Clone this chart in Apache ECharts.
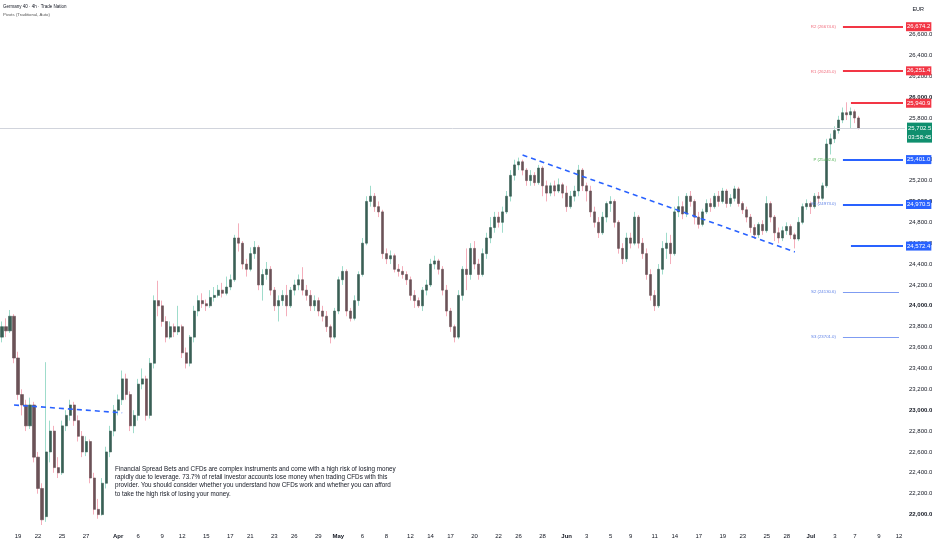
<!DOCTYPE html>
<html><head><meta charset="utf-8">
<script src="https://cdn.jsdelivr.net/npm/echarts@6/dist/echarts.min.js"></script>
<style>html,body{margin:0;padding:0;background:#fff}#c{width:932px;height:550px}</style>
</head><body><div id="c"></div>
<script>
// [open, close, low, high] per 4h bar
const ohlc = [
[23700,23800,23650,23850],[23800,23760,23700,23880],[23760,23900,23740,23960],[23900,23500,23450,23920],
[23500,23150,23100,23560],[23150,23050,22950,23200],[23050,22850,22800,23100],[22850,23050,22820,23120],
[23050,22550,22500,23080],[22550,22250,22200,22600],[22250,21950,21900,22300],[21980,22600,21930,23460],
[22600,22800,22500,22900],[22800,22450,22400,22850],[22450,22400,22350,22550],[22400,22850,22380,22900],
[22850,22950,22800,23000],[22950,23050,22900,23100],[23050,22900,22850,23080],[22900,22750,22700,22950],
[22750,22600,22550,22800],[22600,22700,22560,22750],[22700,22350,22300,22720],[22350,22050,22000,22400],
[22050,22000,21960,22150],[22000,22300,21990,22350],[22300,22600,22250,22650],[22600,22800,22550,22850],
[22800,23000,22750,23050],[23000,23100,22950,23150],[23100,23300,23050,23380],[23300,23150,23100,23350],
[23150,22850,22800,23180],[22850,22950,22780,23000],[22950,23250,22900,23300],[23250,23300,23200,23400],
[23300,22950,22900,23330],[22950,23450,22920,23500],[23450,24050,23400,24100],[24050,24000,23900,24240],
[24000,23850,23800,24050],[23850,23700,23650,23900],[23700,23800,23680,23850],[23800,23750,23700,23830],
[23750,23800,23720,24000],[23800,23550,23500,23820],[23550,23450,23400,23600],[23450,23700,23420,23720],
[23700,23950,23650,24000],[23950,24050,23900,24100],[24050,24020,23980,24120],[24020,24000,23950,24060],
[24000,24080,23980,24150],[24080,24100,24040,24180],[24100,24150,24080,24200],[24150,24120,24080,24220],
[24120,24180,24100,24280],[24180,24250,24150,24300],[24250,24650,24230,24680],[24650,24600,24520,24790],
[24600,24400,24350,24620],[24400,24350,24280,24450],[24350,24500,24330,24560],[24500,24560,24450,24620],
[24560,24200,24150,24580],[24200,24300,24050,24350],[24300,24350,24250,24420],[24350,24150,24100,24380],
[24150,24000,23950,24180],[24000,24050,23850,24100],[24050,24100,24000,24150],[24100,24000,23900,24200],
[24000,24150,23980,24180],[24150,24200,24100,24250],[24200,24250,24150,24300],[24250,24150,24100,24370],
[24150,24100,24050,24200],[24100,24000,23950,24150],[24000,24050,23950,24100],[24050,23950,23900,24080],
[23950,23900,23850,24000],[23900,23800,23750,23950],[23800,23700,23640,23820],[23700,23950,23680,23980],
[23950,24250,23920,24280],[24250,24330,24200,24380],[24330,23950,23900,24350],[23950,23880,23850,23980],
[23880,24050,23860,24100],[24050,24300,24000,24330],[24300,24600,24280,24650],[24600,25000,24580,25050],
[25000,25050,24950,25150],[25050,24950,24900,25080],[24950,24900,24850,25000],[24900,24500,24450,24920],
[24500,24450,24400,24550],[24450,24480,24400,24530],[24480,24350,24320,24500],[24350,24330,24280,24400],
[24330,24300,24260,24380],[24300,24250,24200,24330],[24250,24100,24050,24280],[24100,24050,23980,24150],
[24050,24000,23980,24080],[24000,24150,23950,24180],[24150,24200,24100,24250],[24200,24400,24180,24450],
[24400,24430,24350,24480],[24430,24350,24300,24450],[24350,24150,24100,24380],[24150,23950,23900,24200],
[23950,23800,23750,23980],[23800,23700,23650,23820],[23700,24100,23680,24150],[24100,24350,24050,24380],
[24350,24300,24150,24550],[24300,24550,24250,24600],[24550,24400,24350,24620],[24400,24300,24250,24450],
[24300,24500,24280,24550],[24500,24650,24450,24700],[24650,24750,24600,24850],[24750,24850,24700,24900],
[24850,24800,24750,24900],[24800,24900,24700,24950],[24900,25050,24880,25100],[25050,25250,25000,25300],
[25250,25350,25200,25400],[25350,25380,25300,25420],[25380,25300,25250,25400],[25300,25200,25150,25320],
[25200,25250,25150,25300],[25250,25180,25150,25280],[25180,25320,25160,25350],[25320,25150,25050,25340],
[25150,25080,25000,25200],[25080,25150,25050,25180],[25150,25100,25050,25200],[25100,25160,25080,25220],
[25160,25080,25030,25180],[25080,24950,24900,25150],[24950,25050,24930,25100],[25050,25100,25000,25150],
[25100,25300,25050,25350],[25300,25150,25100,25320],[25150,25100,25000,25180],[25100,24900,24850,25150],
[24900,24800,24750,24950],[24800,24700,24650,24850],[24700,24850,24680,24900],[24850,24980,24800,25000],
[24980,25000,24900,25050],[25000,24800,24750,25020],[24800,24550,24500,24820],[24550,24450,24400,24600],
[24450,24650,24420,24700],[24650,24600,24550,24700],[24600,24850,24580,24900],[24850,24600,24550,24870],
[24600,24500,24450,24650],[24500,24300,24250,24550],[24300,24100,24050,24350],[24100,24000,23950,24150],
[24000,24350,23980,24400],[24350,24550,24300,24620],[24550,24600,24450,24700],[24600,24500,24400,24680],
[24500,24900,24480,24950],[24900,24950,24850,25050],[24950,24880,24830,25000],[24880,25050,24850,25080],
[25050,25000,24950,25100],[25000,24850,24780,25020],[24850,24780,24740,24900],[24780,24900,24760,24930],
[24900,24980,24880,25020],[24980,24950,24900,25030],[24950,25050,24930,25080],[25050,25000,24950,25100],
[25000,25100,24980,25130],[25100,24980,24940,25120],[24980,25030,24950,25070],[25030,25120,25000,25150],
[25120,24980,24950,25140],[24980,24920,24880,25000],[24920,24850,24800,24950],[24850,24750,24700,24880],
[24750,24680,24640,24780],[24680,24780,24650,24800],[24780,24720,24680,24820],[24720,24980,24700,25050],
[24980,24850,24800,25000],[24850,24700,24620,24870],[24700,24650,24600,24750],[24650,24720,24620,24760],
[24720,24760,24680,24800],[24760,24680,24640,24780],[24680,24640,24550,24700],[24640,24800,24620,24850],
[24800,24950,24780,24980],[24950,24980,24920,25020],[24980,24950,24880,25000],[24950,25050,24930,25080],
[25050,25030,24980,25090],[25030,25150,25010,25180],[25150,25550,25130,25600],[25550,25600,25450,25650],
[25600,25680,25560,25720],[25680,25780,25650,25820],[25780,25850,25750,25900],[25850,25830,25780,25950],
[25830,25860,25700,25900],[25860,25800,25750,25880],[25800,25702.5,25690,25820]
];
const futureBars = 11;
const tickIndex = [4,9,15,21,29,34,40,45,51,57,62,68,73,79,84,90,96,102,107,112,118,124,129,135,141,146,152,157,163,168,174,180,185,191,196,202,208,213,219,224];
const tickText  = ['19','22','25','27','Apr','6','9','12','15','17','21','23','26','29','May','6','8','12','14','17','20','22','26','28','Jun','3','5','9','11','14','17','19','23','25','28','Jul','3','7','9','12'];
const monthNames = ['Apr','May','Jun','Jul'];
const pivotNames  = ['R2','R1','P','S1','S2','S3'];
const pivotValues = [26674.6, 26245.0, 25402.6, 24973.0, 24130.6, 23701.0];
const priceTags   = [26674.2, 26251.4, 25940.9, 25401.0, 24970.5, 24572.4];
const lastPrice = 25702.5;
const countdown = '03:58:45';
const trendA = [[3, 23050], [30, 22975]];
const trendB = [[130, 25445], [198, 24516]];
const disclaimer = [
 'Financial Spread Bets and CFDs are complex instruments and come with a high risk of losing money',
 'rapidly due to leverage. 73.7% of retail investor accounts lose money when trading CFDs with this',
 'provider. You should consider whether you understand how CFDs work and whether you can afford',
 'to take the high risk of losing your money.'
];

const FONT = "'Liberation Sans',sans-serif";
const nCat = ohlc.length + futureBars;
const cats = Array.from({length: nCat}, (_, i) => String(i));
const tickMap = {}; tickIndex.forEach((k, j) => tickMap[k] = tickText[j]);
const fmt = v => v.toLocaleString('en-US', {minimumFractionDigits: 1, maximumFractionDigits: 1});
const RED = '#f23645', BLUE = '#2962ff';
const lastIdx = ohlc.length - 1;
const pivotStart = lastIdx - 4, tagOnlyStart = lastIdx - 2, endIdx = nCat - 1;

const marks = [];
// pivot text labels and thin lines
pivotNames.forEach((nm, k) => {
  const v = pivotValues[k];
  const col = nm[0] === 'R' ? '#f0697a' : (nm === 'P' ? '#4caf50' : '#5b7fe6');
  const thin = nm === 'S2' || nm === 'S3';
  marks.push([
    {coord: [pivotStart, v], lineStyle: {color: '#7f9cf2', width: thin ? 1 : 0, type: 'solid'},
     label: {show: true, position: 'start', formatter: nm + ' (' + v.toFixed(1) + ')', color: col, fontSize: 4.3, fontFamily: FONT, distance: 7}},
    {coord: [thin ? endIdx - 1 : pivotStart + 1, v]}
  ]);
});
// price tags with thick lines
priceTags.forEach(v => {
  const col = v > lastPrice ? RED : BLUE;
  const nearPivot = pivotValues.some(p => Math.abs(p - v) < 60);
  marks.push([
    {coord: [nearPivot ? pivotStart : tagOnlyStart, v], lineStyle: {color: col, width: 2, type: 'solid'},
     label: {show: true, position: 'end', formatter: fmt(v), color: '#fff', backgroundColor: col, fontSize: 6, fontFamily: FONT, padding: [2, 1, 1, 1], distance: 3}},
    {coord: [endIdx, v]}
  ]);
});
// current price
marks.push({yAxis: lastPrice, lineStyle: {color: '#d1d4dc', width: 1, type: 'solid'},
  label: {show: true, position: 'end', formatter: fmt(lastPrice) + '\n' + countdown, color: '#fff', backgroundColor: '#0f8f6e',
          fontSize: 6, lineHeight: 9, fontFamily: FONT, padding: [1, 1, 1, 1], distance: 2, offset: [0, 4.5]}});
// trend lines
[trendA, trendB].forEach(t => {
  marks.push([
    {coord: t[0], lineStyle: {color: BLUE, width: 1.6, type: [5, 4]}, label: {show: false}},
    {coord: t[1]}
  ]);
});

const chart = echarts.init(document.getElementById('c'), null, {renderer: 'canvas'});
chart.setOption({
  animation: false,
  backgroundColor: '#ffffff',
  grid: {left: 0, right: 27, top: 0, bottom: 25, containLabel: false, outerBoundsMode: 'none'},
  xAxis: {
    type: 'category', data: cats, boundaryGap: true,
    axisLine: {show: false}, axisTick: {show: false}, splitLine: {show: false},
    axisLabel: {interval: 0, margin: 8, fontSize: 6, color: '#131722', fontFamily: FONT,
      formatter: (val, idx) => { const t = tickMap[idx]; if (!t) return ''; return monthNames.includes(t) ? '{b|' + t + '}' : t; },
      rich: {b: {fontWeight: 'bold', fontSize: 6, color: '#131722', fontFamily: FONT}}}
  },
  yAxis: {
    type: 'value', position: 'right', min: 21900, max: 26930, interval: 100, scale: true,
    axisLine: {show: false}, axisTick: {show: false}, splitLine: {show: false},
    axisLabel: {margin: 4, fontSize: 6, color: '#131722', fontFamily: FONT, showMaxLabel: false,
      formatter: v => { if (v % 200 !== 0 || v > 26700) return ''; return v % 1000 === 0 ? '{b|' + fmt(v) + '}' : fmt(v); },
      rich: {b: {fontWeight: 'bold', fontSize: 6, color: '#131722', fontFamily: FONT}}}
  },
  graphic: [
    {type: 'text', left: 3, top: 4, style: {text: 'Germany 40 · 4h · Trade Nation', fontSize: 4.5, fontFamily: FONT, fill: '#131722'}},
    {type: 'text', left: 3, top: 13, style: {text: 'Pivots (Traditional, Auto)', fontSize: 4.3, fontFamily: FONT, fill: '#555'}},
    {type: 'text', right: 8, top: 6, style: {text: 'EUR', fontSize: 5.5, fontFamily: FONT, fill: '#131722'}},
    {type: 'text', left: 115, top: 465, z: 100, style: {text: disclaimer.join('\n'), fontSize: 6.3, lineHeight: 8.3, fontFamily: FONT, fill: '#131722'}}
  ],
  series: [
    {
      type: 'candlestick', name: 'wick', data: ohlc, barWidth: 1, z: 2, silent: true,
      itemStyle: {color: '#9fdccb', color0: '#f4aebb', borderColor: '#9fdccb', borderColor0: '#f4aebb', borderWidth: 1}
    },
    {
      type: 'candlestick', name: 'body', barWidth: 2.6, z: 3, silent: true,
      data: ohlc.map(r => [r[0], r[1], Math.min(r[0], r[1]), Math.max(r[0], r[1])]),
      itemStyle: {color: '#3a5f55', color0: '#6b5257', borderColor: '#3a5f55', borderColor0: '#6b5257', borderWidth: 0.6},
      markLine: {silent: true, symbol: ['none', 'none'], animation: false, data: marks}
    }
  ]
});
</script>
</body></html>
